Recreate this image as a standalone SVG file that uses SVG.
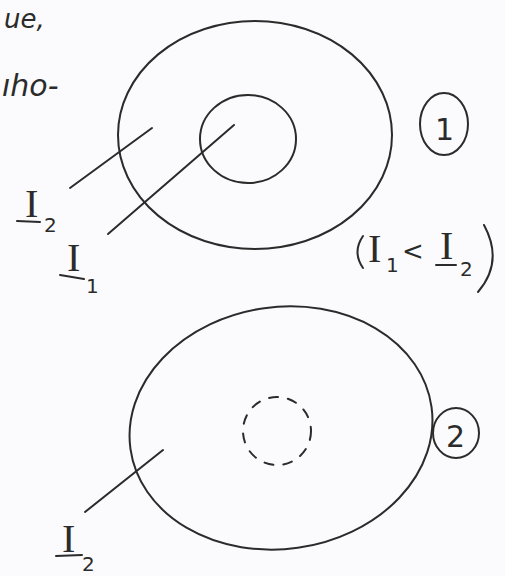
<svg xmlns="http://www.w3.org/2000/svg" width="505" height="576" viewBox="0 0 505 576">
<style>
.s{fill:none;stroke:#2b2b2b;stroke-width:2;stroke-linecap:round}
.t{font-family:"DejaVu Sans","Liberation Sans",sans-serif;fill:#2b2b2b}
.i{font-family:"Liberation Serif",serif;font-size:40px;fill:#2b2b2b}
.sub{font-size:20px}
</style>
<rect width="505" height="576" fill="#fbfbfd"/>
<text class="t" x="4" y="28" font-size="26" font-style="italic">ue,</text>
<text class="t" x="2" y="96" font-size="30" font-style="italic">ıho-</text>
<g id="fig1">
<ellipse class="s" cx="255" cy="135" rx="137" ry="114"/>
<ellipse class="s" cx="248" cy="139" rx="48" ry="44"/>
<path class="s" d="M70 188 L152 128"/>
<path class="s" d="M108 234 L234 125"/>
<g id="label-I2a"><text class="i" x="25" y="217">I</text><path class="s" d="M17 221 L40 222"/><text class="t sub" x="44" y="232">2</text></g>
<g id="label-I1a"><text class="i" x="67" y="271">I</text><path class="s" d="M60 275 L84 279"/><text class="t sub" x="86" y="293">1</text></g>
<g id="num1"><ellipse class="s" cx="444" cy="124" rx="24" ry="31"/><text class="t" x="435" y="140" font-size="30">1</text></g>
<g id="cond"><path class="s" d="M363 236 Q352 252 363 268"/><text class="i" x="368" y="262">I</text><text class="t sub" x="386" y="272">1</text><text class="t" x="402" y="260" font-size="26">&lt;</text><text class="i" x="440" y="259">I</text><path class="s" d="M436 265 L456 265"/><text class="t sub" x="460" y="276">2</text><path class="s" d="M484 225 Q504 262 478 292"/></g>
</g>
<g id="fig2">
<ellipse class="s" cx="281" cy="428" rx="152" ry="121" transform="rotate(-8 281 428)"/>
<circle class="s" cx="277" cy="431" r="34" stroke-dasharray="9 10"/>
<path class="s" d="M85 512 L163 450"/>
<g id="label-I2b"><text class="i" x="62" y="552">I</text><path class="s" d="M56 556 L82 555"/><text class="t sub" x="82" y="571">2</text></g>
<g id="num2"><ellipse class="s" cx="456" cy="433" rx="23" ry="25"/><text class="t" x="446" y="447" font-size="30">2</text></g>
</g>
</svg>
